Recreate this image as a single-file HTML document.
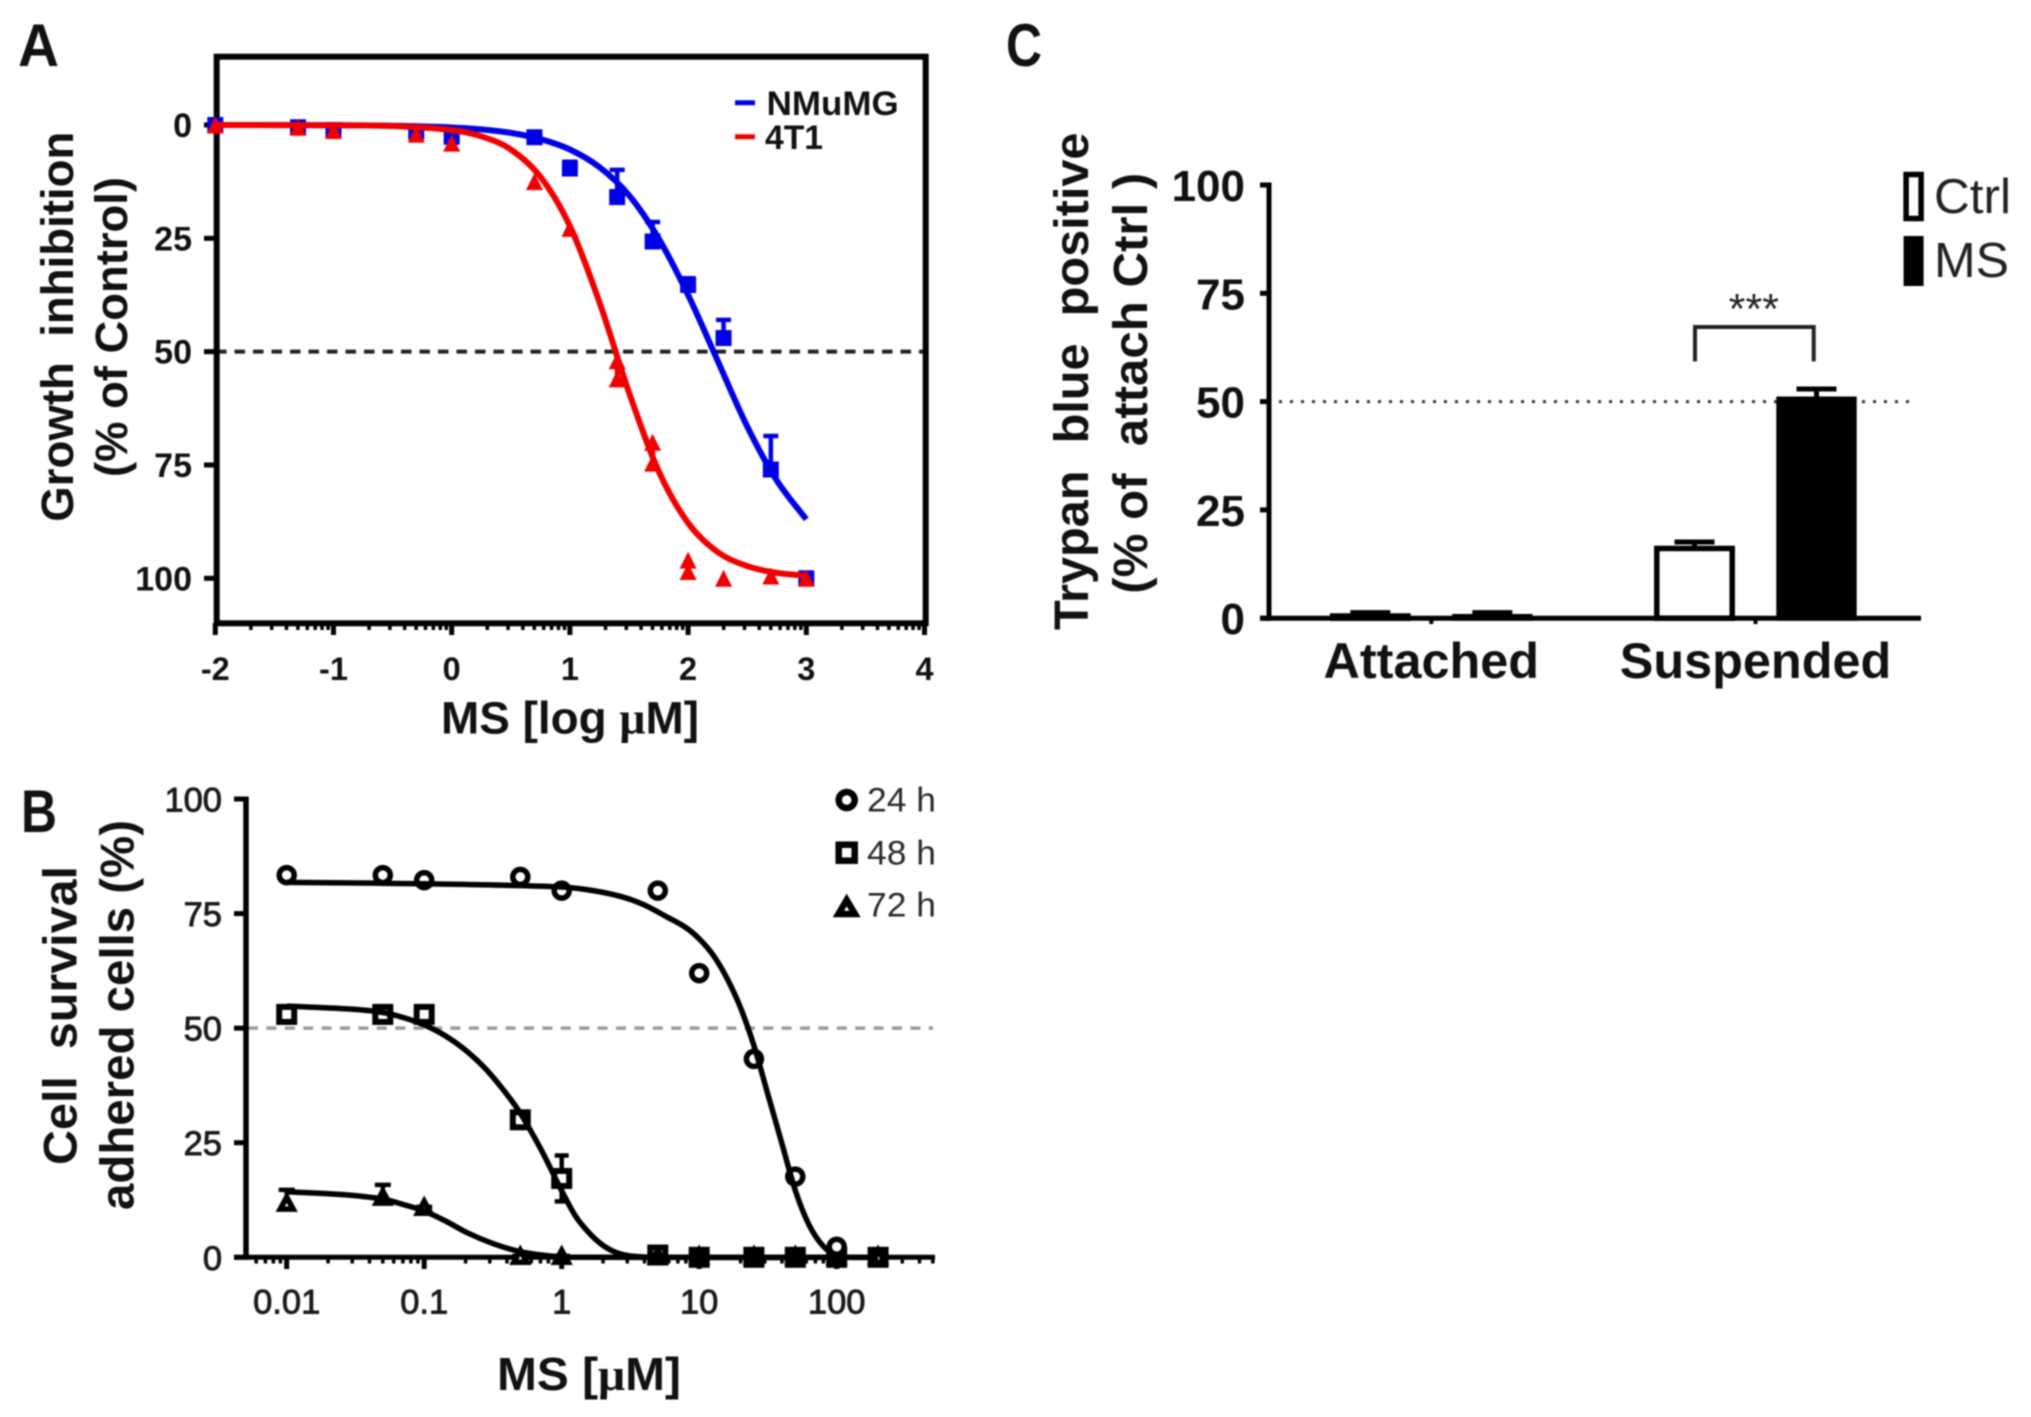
<!DOCTYPE html>
<html lang="en">
<head>
<meta charset="utf-8">
<title>MS dose response figure</title>
<style>
html,body{margin:0;padding:0;background:#fff;width:2031px;height:1417px;overflow:hidden}
svg{display:block;filter:blur(.7px)}
text{font-family:"Liberation Sans",sans-serif;white-space:pre}
.b{font-weight:bold}
.ink{fill:#111}
</style>
</head>
<body>
<svg id="figure" xmlns="http://www.w3.org/2000/svg" width="2031" height="1417" viewBox="0 0 2031 1417">
  <rect x="0" y="0" width="2031" height="1417" fill="#fff"/>

  <g id="panelA">
    <text class="b ink" x="18" y="66" font-size="60" textLength="41" lengthAdjust="spacingAndGlyphs">A</text>
    <text class="b ink" transform="translate(73,521.7) rotate(-90)" font-size="45.5" textLength="390" lengthAdjust="spacingAndGlyphs">Growth  inhibition</text>
    <text class="b ink" transform="translate(127,477) rotate(-90)" font-size="45.5" textLength="300" lengthAdjust="spacingAndGlyphs">(% of Control)</text>
    <text class="b ink" x="441" y="733.5" font-size="45" textLength="258" lengthAdjust="spacingAndGlyphs">MS [log <tspan font-family="Liberation Serif">μ</tspan>M]</text>
    <line x1="735" x2="755" y1="102.7" y2="102.7" stroke="#0000e6" stroke-width="5"/>
    <text class="b ink" x="766.7" y="115" font-size="34" textLength="132" lengthAdjust="spacingAndGlyphs">NMuMG</text>
    <line x1="735" x2="755" y1="136.7" y2="136.7" stroke="#f00000" stroke-width="5"/>
    <text class="b ink" x="765" y="149" font-size="34" textLength="58" lengthAdjust="spacingAndGlyphs">4T1</text>
  </g>

  <g id="panelB">
    <text class="b ink" x="21" y="832" font-size="60" textLength="36" lengthAdjust="spacingAndGlyphs">B</text>
    <text class="b ink" transform="translate(76.7,1165) rotate(-90)" font-size="47.5" textLength="299" lengthAdjust="spacingAndGlyphs">Cell  survival</text>
    <text class="b ink" transform="translate(133.3,1210) rotate(-90)" font-size="47.5" textLength="390" lengthAdjust="spacingAndGlyphs">adhered cells (%)</text>
    <text class="b ink" x="497" y="1390" font-size="46" textLength="184" lengthAdjust="spacingAndGlyphs">MS [<tspan font-family="Liberation Serif">μ</tspan>M]</text>
    <circle cx="846.7" cy="800" r="8" fill="#fff" stroke="#000" stroke-width="6.5"/>
    <rect x="838.7" y="844.7" width="16" height="16" fill="#fff" stroke="#000" stroke-width="6.5"/>
    <path d="M846.7 900 L855 914 L838.4 914 Z" fill="#fff" stroke="#000" stroke-width="6.5" stroke-linejoin="miter"/>
    <text x="867" y="811.7" font-size="34" fill="#2a2a2a" textLength="69" lengthAdjust="spacingAndGlyphs">24 h</text>
    <text x="867" y="864.3" font-size="34" fill="#2a2a2a" textLength="69" lengthAdjust="spacingAndGlyphs">48 h</text>
    <text x="867" y="916.7" font-size="34" fill="#2a2a2a" textLength="69" lengthAdjust="spacingAndGlyphs">72 h</text>
  </g>

  <g id="panelC">
    <text class="b ink" x="1006" y="66" font-size="60" textLength="36" lengthAdjust="spacingAndGlyphs">C</text>
    <text class="b ink" transform="translate(1088,630) rotate(-90)" font-size="48.5" textLength="497.5" lengthAdjust="spacingAndGlyphs">Trypan  blue  positive</text>
    <text class="b ink" transform="translate(1147,593.7) rotate(-90)" font-size="48.5" textLength="421" lengthAdjust="spacingAndGlyphs">(% of  attach Ctrl )</text>
    <path d="M1695 361.4 V327 H1813.7 V361.4" fill="none" stroke="#222" stroke-width="4"/>
    <text x="1728.7" y="323.5" font-size="43" fill="#222" textLength="50.3" lengthAdjust="spacingAndGlyphs">***</text>
    <rect x="1906.1" y="174.5" width="15" height="44" fill="#fff" stroke="#000" stroke-width="5.5"/>
    <rect x="1903.6" y="236" width="20" height="50" fill="#000"/>
    <text x="1934" y="213" font-size="49" fill="#222" textLength="77" lengthAdjust="spacingAndGlyphs">Ctrl</text>
    <text x="1934" y="277" font-size="49" fill="#222" textLength="75" lengthAdjust="spacingAndGlyphs">MS</text>
  </g>
</svg>

<script>
/* ---------- Panel A data ---------- */
const aXTickLabels = [-2, -1, 0, 1, 2, 3, 4];
const aYTickLabels = [0, 25, 50, 75, 100];
const aReferenceLevel = 50;
const aLogDose = [-2, -1.3, -1, -0.3, 0, 0.7, 1, 1.4, 1.7, 2, 2.3, 2.7, 3];
const aBlueMean = [0, 0.5, 1.1, 1.5, 2.6, 2.7, 9.6, 15.9, 25.7, 35.3, 47, 76, 100];
const aBlueErr = [0.5, 0.7, 0.6, 1, 1, 0.8, 1.5, 6, 4.3, 1.5, 4, 7.4, 0.5];
const aRedMean = [0, 0.5, 1.2, 2, 4, 12.5, 22.8, 56, 74.6, 98.5, 100, 99.5, 100];
const aRedErr = [0.3, 0.3, 0.4, 0.5, 0.5, 0.5, 0.5, 2.5, 3, 1, 0, 0.2, 0];
const aRedExtraDose = [1.4, 1.7, 2];
const aRedExtraValue = [52, 70, 96];
const aCurveDose = [-2, -1, -0.5, 0, 0.25, 0.5, 0.75, 1, 1.25, 1.5, 1.75, 2, 2.25, 2.5, 2.75, 3];
const aBlueCurve = [0, 0.05, 0.17, 0.54, 0.97, 1.74, 3.1, 5.4, 9.3, 15.5, 25, 37.5, 52, 66.5, 78.4, 87];
const aRedCurve = [0, 0.05, 0.23, 1.13, 2.5, 5.4, 11.4, 22.3, 39.1, 59, 76.3, 87.8, 94.2, 97.3, 98.8, 99.4];

/* ---------- Panel B data ---------- */
const bXTickLabels = ['0.01', '0.1', '1', '10', '100'];
const bXTickValues = [0.01, 0.1, 1, 10, 100];
const bYTickLabels = [0, 25, 50, 75, 100];
const bReferenceLevel = 50;
const b24Dose = [0.01, 0.05, 0.1, 0.5, 1, 5, 10, 25, 50, 100];
const b24Value = [83.4, 83.4, 82.3, 83, 80, 80, 62, 43.3, 17.6, 2.3];
const b48Dose = [0.01, 0.05, 0.1, 0.5, 1, 5, 10, 25, 50, 100, 200];
const b48Value = [53, 53, 53, 30, 17.2, 0.5, 0, 0, 0, 0, 0];
const b48Err = [1.5, 1, 0.5, 1.5, 5, 0.5, 0.5, 0.3, 0.3, 0.3, 0.3];
const b72Dose = [0.01, 0.05, 0.1, 0.5, 1, 5, 10, 25, 50, 100, 200];
const b72Value = [11.6, 12.9, 10.7, 0, 0, 0, 0, 0, 0, 0, 0];
const b72Err = [3.1, 2.9, 0.3, 0.3, 0.3, 0, 0, 0, 0, 0, 0];
const b24CurveLog = [-2, -1, 0, 0.25, 0.445, 0.6, 0.763, 0.9, 1, 1.1, 1.2, 1.3, 1.4, 1.5, 1.6, 1.7, 1.8, 1.9, 2, 2.1, 2.3];
const b24Curve = [81.8, 81.5, 80.8, 79.9, 78.6, 76.9, 74.3, 72, 69.5, 66, 61, 54.5, 46, 35.5, 25, 14.5, 7, 2.5, 0.3, 0, 0];
const b48CurveLog = [-2, -1.5, -1.3, -1.15, -1, -0.85, -0.7, -0.55, -0.4, -0.3, -0.15, 0, 0.1, 0.2, 0.3, 0.4, 0.5, 0.7, 2.3];
const b48Curve = [54.8, 54.1, 53.4, 52.3, 50.7, 48.4, 45.2, 41, 35.6, 31.4, 23.5, 14.5, 9, 5.3, 2.6, 1, 0.3, 0, 0];
const b72CurveLog = [-2, -1.6, -1.3, -1.15, -1, -0.85, -0.69, -0.5, -0.325, -0.15, 0, 0.2, 2.3];
const b72Curve = [14.3, 13.7, 12.7, 11.5, 10.1, 8, 5.4, 3, 1.4, 0.5, 0.1, 0, 0];

/* ---------- Panel C data ---------- */
const cGroups = ['Attached', 'Suspended'];
const cYTickLabels = [0, 25, 50, 75, 100];
const cReferenceLevel = 50;
const cCtrlValue = [0.5, 16.1];
const cCtrlErr = [0.8, 1.5];
const cMsValue = [0.4, 50.6];
const cMsErr = [0.9, 2.3];

/* ---------- Axis functions ---------- */
function xA(v) { return 451.7 + v * 118.2; }
function yA(v) { return 125 + v * 4.533; }
function xBLog(l) { return 561.7 + l * 137.5; }
function xB(c) { return xBLog(Math.log10(c)); }
function yB(v) { return 1257.3 - v * 4.583; }
function yC(v) { return 618.2 - v * 4.332; }
function xCGroup(i) { return 1431.3 + i * 324.2; }

/* ---------- Helpers ---------- */
const NS = 'http://www.w3.org/2000/svg';
function add(parent, tag, attrs) {
  const n = document.createElementNS(NS, tag);
  for (const k in attrs) n.setAttribute(k, attrs[k]);
  parent.appendChild(n);
  return n;
}
function smoothPath(xs, ys) {
  let d = 'M' + xs[0].toFixed(2) + ' ' + ys[0].toFixed(2);
  for (let i = 0; i < xs.length - 1; i++) {
    const i0 = Math.max(0, i - 1), i3 = Math.min(xs.length - 1, i + 2);
    const h = xs[i + 1] - xs[i];
    const m1 = (ys[i + 1] - ys[i0]) / (xs[i + 1] - xs[i0]);
    const m2 = (ys[i3] - ys[i]) / (xs[i3] - xs[i]);
    const c1x = xs[i] + h / 3, c1y = ys[i] + m1 * h / 3;
    const c2x = xs[i + 1] - h / 3, c2y = ys[i + 1] - m2 * h / 3;
    d += 'C' + [c1x, c1y, c2x, c2y, xs[i + 1], ys[i + 1]].map(n => n.toFixed(2)).join(' ');
  }
  return d;
}
function trianglePath(cx, cy, w, h) {
  return 'M' + cx + ' ' + (cy - h / 2) + 'L' + (cx + w / 2) + ' ' + (cy + h / 2) + 'L' + (cx - w / 2) + ' ' + (cy + h / 2) + 'Z';
}

const gA = document.getElementById('panelA');
const gB = document.getElementById('panelB');
const gC = document.getElementById('panelC');

/* ---------- Panel A ---------- */
const aDash = add(gA, 'line', {x1: 216, x2: 925, y1: yA(aReferenceLevel), y2: yA(aReferenceLevel), stroke: '#222', 'stroke-width': 4, 'stroke-dasharray': '10.5 8'});



for (let d = -2; d < 4; d++) {
  for (let k = 2; k < 10; k++) {
    const mt = add(gA, 'line', {x1: xA(d + Math.log10(k)), x2: xA(d + Math.log10(k)), y1: 623, y2: 630, stroke: '#000', 'stroke-width': 3.5});
    
    
  }
}
aXTickLabels.forEach(function (v) {
  const t = add(gA, 'line', {x1: xA(v), x2: xA(v), y1: 623, y2: 635, stroke: '#000', 'stroke-width': 5});
  
  
  const l = add(gA, 'text', {x: xA(v), y: 680, 'text-anchor': 'middle', 'font-size': 32.5, class: 'b ink'});
  l.textContent = String(v);
  
  
});
aYTickLabels.forEach(function (v) {
  const t = add(gA, 'line', {x1: 204, x2: 216, y1: yA(v), y2: yA(v), stroke: '#000', 'stroke-width': 5});
  
  
  const l = add(gA, 'text', {x: 192, y: yA(v) + 12, 'text-anchor': 'end', 'font-size': 34, class: 'b ink'});
  l.textContent = String(v);
  
  
});
const aFrame = add(gA, 'rect', {x: 216.7, y: 56.7, width: 709, height: 566.6, fill: 'none', stroke: '#000', 'stroke-width': 6});



aLogDose.forEach(function (d, i) {
  const e = add(gA, 'path', {d: 'M' + xA(d) + ' ' + yA(aBlueMean[i]) + 'V' + yA(aBlueMean[i] - aBlueErr[i]) + 'M' + (xA(d) - 7.5) + ' ' + yA(aBlueMean[i] - aBlueErr[i]) + 'H' + (xA(d) + 7.5), stroke: '#0000e6', 'stroke-width': 4.5, fill: 'none'});
  
  
  const s = add(gA, 'rect', {x: xA(d) - 8, y: yA(aBlueMean[i]) - 8, width: 16, height: 16, fill: '#0000e6'});
  
  
});
const aBlueLine = add(gA, 'path', {d: smoothPath(aCurveDose.map(xA), aBlueCurve.map(yA)), fill: 'none', stroke: '#0000e6', 'stroke-width': 6});


aLogDose.forEach(function (d, i) {
  const e = add(gA, 'path', {d: 'M' + xA(d) + ' ' + yA(aRedMean[i]) + 'V' + yA(aRedMean[i] - aRedErr[i]), stroke: '#f00000', 'stroke-width': 5, fill: 'none'});
  
  
  const p = add(gA, 'path', {d: trianglePath(xA(d), yA(aRedMean[i]), 17, 17), fill: '#f00000'});
  
  
});
aRedExtraDose.forEach(function (d, i) {
  const p = add(gA, 'path', {d: trianglePath(xA(d), yA(aRedExtraValue[i]), 17, 17), fill: '#f00000'});
  
  
});
const aRedLine = add(gA, 'path', {d: smoothPath(aCurveDose.map(xA), aRedCurve.map(yA)), fill: 'none', stroke: '#f00000', 'stroke-width': 6});



/* ---------- Panel B ---------- */
const bDash = add(gB, 'line', {x1: 248, x2: 933, y1: yB(bReferenceLevel), y2: yB(bReferenceLevel), stroke: '#9a9a9a', 'stroke-width': 3.5, 'stroke-dasharray': '10 8.4'});



for (let d = -3; d <= 2; d++) {
  for (let k = 2; k < 10; k++) {
    const lg = d + Math.log10(k);
    if (xBLog(lg) < 250 || xBLog(lg) > 935) continue;
    const mt = add(gB, 'line', {x1: xBLog(lg), x2: xBLog(lg), y1: 1257, y2: 1263.5, stroke: '#000', 'stroke-width': 3.5});
    
    
  }
}
bXTickValues.forEach(function (v, i) {
  const t = add(gB, 'line', {x1: xB(v), x2: xB(v), y1: 1257, y2: 1269, stroke: '#000', 'stroke-width': 5});
  
  
  const l = add(gB, 'text', {x: xB(v), y: 1313.3, 'text-anchor': 'middle', 'font-size': 34.5, fill: '#1a1a1a', stroke: '#1a1a1a', 'stroke-width': 0.9});
  l.textContent = bXTickLabels[i];
  
  
});
bYTickLabels.forEach(function (v) {
  const t = add(gB, 'line', {x1: 234, x2: 246, y1: yB(v), y2: yB(v), stroke: '#000', 'stroke-width': 5});
  
  
  const l = add(gB, 'text', {x: 222, y: yB(v) + 12.5, 'text-anchor': 'end', 'font-size': 34.5, fill: '#1a1a1a', stroke: '#1a1a1a', 'stroke-width': 0.9});
  l.textContent = String(v);
  
  
});
const bYAxis = add(gB, 'line', {x1: 246, x2: 246, y1: yB(100) - 2.5, y2: yB(0) + 2.5, stroke: '#000', 'stroke-width': 5.5});


const bXAxis = add(gB, 'line', {x1: 234, x2: 935, y1: yB(0), y2: yB(0), stroke: '#000', 'stroke-width': 5});



b48Dose.forEach(function (c, i) {
  const e = add(gB, 'path', {d: 'M' + (xB(c) - 7) + ' ' + yB(b48Value[i] + b48Err[i]) + 'H' + (xB(c) + 7) + 'M' + xB(c) + ' ' + yB(b48Value[i] + b48Err[i]) + 'V' + yB(b48Value[i] - b48Err[i]) + 'M' + (xB(c) - 7) + ' ' + yB(b48Value[i] - b48Err[i]) + 'H' + (xB(c) + 7), stroke: '#000', 'stroke-width': 4.5, fill: 'none'});
  
  
  const s = add(gB, 'rect', {x: xB(c) - 7.5, y: yB(b48Value[i]) - 7.5, width: 15, height: 15, fill: '#fff', stroke: '#000', 'stroke-width': 6});
  
  
});
b72Dose.forEach(function (c, i) {
  const e = add(gB, 'path', {d: 'M' + xB(c) + ' ' + yB(b72Value[i]) + 'V' + yB(b72Value[i] + b72Err[i]) + 'M' + (xB(c) - 8) + ' ' + yB(b72Value[i] + b72Err[i]) + 'H' + (xB(c) + 8), stroke: '#000', 'stroke-width': 4.5, fill: 'none'});
  
  
  const p = add(gB, 'path', {d: trianglePath(xB(c), yB(b72Value[i]) - 1, 13, 12), fill: '#fff', stroke: '#000', 'stroke-width': 5.5});
  
  
});
b24Dose.forEach(function (c, i) {
  const p = add(gB, 'circle', {cx: xB(c), cy: yB(b24Value[i]), r: 7.5, fill: '#fff', stroke: '#000', 'stroke-width': 5.5});
  
  
});
const b24Line = add(gB, 'path', {d: smoothPath(b24CurveLog.map(xBLog), b24Curve.map(yB)), fill: 'none', stroke: '#000', 'stroke-width': 5.5});


const b48Line = add(gB, 'path', {d: smoothPath(b48CurveLog.map(xBLog), b48Curve.map(yB)), fill: 'none', stroke: '#000', 'stroke-width': 5.5});


const b72Line = add(gB, 'path', {d: smoothPath(b72CurveLog.map(xBLog), b72Curve.map(yB)), fill: 'none', stroke: '#000', 'stroke-width': 5.5});



/* ---------- Panel C ---------- */
const cDots = add(gC, 'line', {x1: 1279, x2: 1911, y1: yC(cReferenceLevel), y2: yC(cReferenceLevel), stroke: '#333', 'stroke-width': 3, 'stroke-dasharray': '3 8'});


cYTickLabels.forEach(function (v) {
  const t = add(gC, 'line', {x1: 1260, x2: 1269, y1: yC(v), y2: yC(v), stroke: '#000', 'stroke-width': 5});
  
  
  const l = add(gC, 'text', {x: 1245, y: yC(v) + 16, 'text-anchor': 'end', 'font-size': 44, class: 'b ink'});
  l.textContent = String(v);
  
  
});
cGroups.forEach(function (name, i) {
  const t = add(gC, 'line', {x1: xCGroup(i), x2: xCGroup(i), y1: 618, y2: 624, stroke: '#000', 'stroke-width': 4});
  
  
  const l = add(gC, 'text', {x: xCGroup(i), y: 678, 'text-anchor': 'middle', 'font-size': 50.4, class: 'b ink'});
  l.textContent = name;
  
  

  const cx1 = xCGroup(i) - 61;
  const e1 = add(gC, 'path', {d: 'M' + cx1 + ' ' + yC(cCtrlValue[i]) + 'V' + yC(cCtrlValue[i] + cCtrlErr[i]) + 'M' + (cx1 - 20) + ' ' + yC(cCtrlValue[i] + cCtrlErr[i]) + 'H' + (cx1 + 20), stroke: '#000', 'stroke-width': 5, fill: 'none'});
  
  
  const b1 = add(gC, 'rect', {x: cx1 - 37.7, y: yC(cCtrlValue[i]), width: 75.4, height: yC(0) - yC(cCtrlValue[i]), fill: '#fff', stroke: '#000', 'stroke-width': 5.5});
  
  

  const cx2 = xCGroup(i) + 61;
  const e2 = add(gC, 'path', {d: 'M' + cx2 + ' ' + yC(cMsValue[i]) + 'V' + yC(cMsValue[i] + cMsErr[i]) + 'M' + (cx2 - 20) + ' ' + yC(cMsValue[i] + cMsErr[i]) + 'H' + (cx2 + 20), stroke: '#000', 'stroke-width': 5, fill: 'none'});
  
  
  const b2 = add(gC, 'rect', {x: cx2 - 37.7, y: yC(cMsValue[i]), width: 75.4, height: yC(0) - yC(cMsValue[i]), fill: '#000', stroke: '#000', 'stroke-width': 5});
  
  
});
const cYAxis = add(gC, 'line', {x1: 1269, x2: 1269, y1: yC(100) - 2.5, y2: yC(0) + 2.5, stroke: '#000', 'stroke-width': 5});


const cXAxis = add(gC, 'line', {x1: 1260, x2: 1921, y1: yC(0), y2: yC(0), stroke: '#000', 'stroke-width': 5});


</script>
</body>
</html>
